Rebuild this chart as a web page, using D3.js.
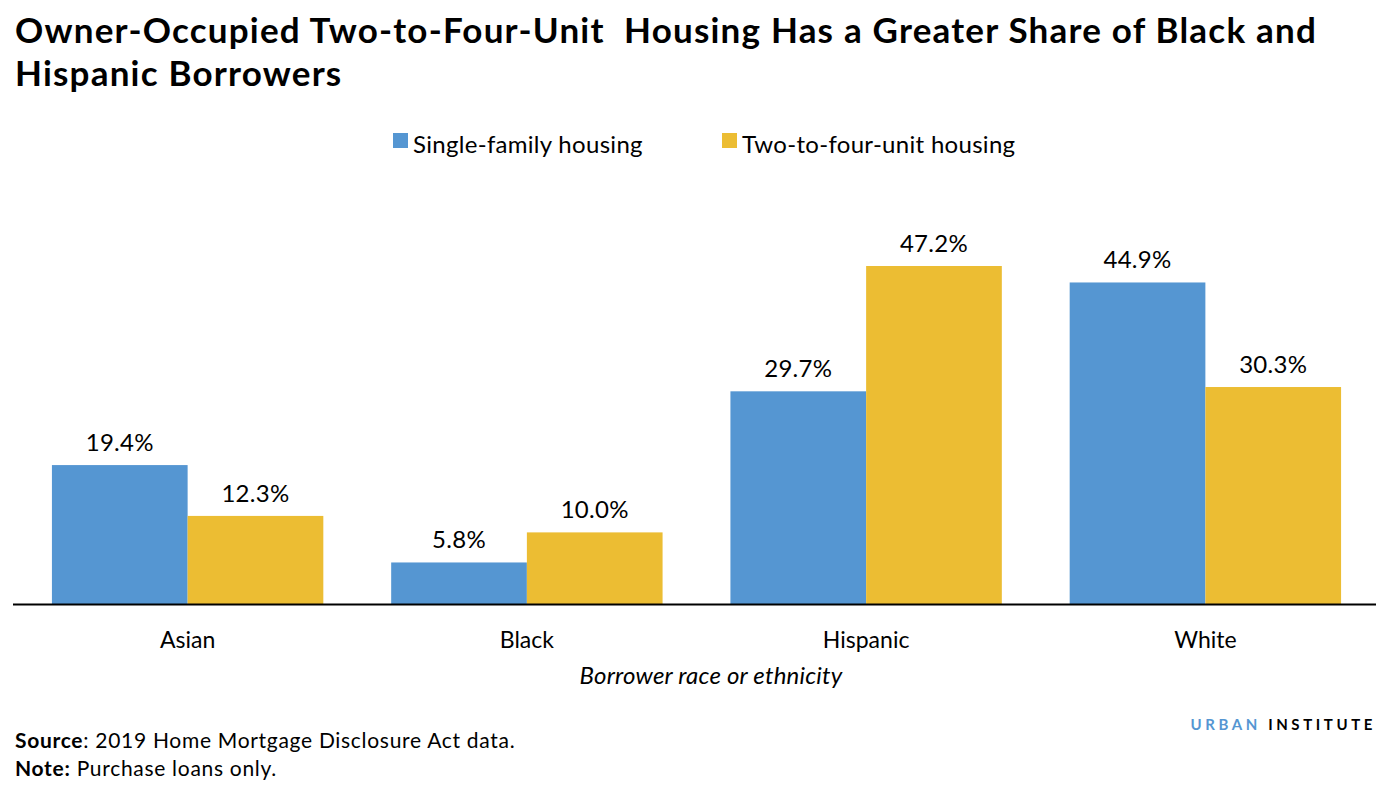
<!DOCTYPE html>
<html><head><meta charset="utf-8">
<script src="https://cdn.jsdelivr.net/npm/d3@7"></script>
<style>body{margin:0;background:#fff;} svg{display:block;font-family:Lato,'Open Sans',sans-serif;}</style>
</head><body>
<svg id="c" width="1391" height="789"></svg>
<script>
const categories = ["Asian","Black","Hispanic","White"];
const seriesNames = ["Single-family housing","Two-to-four-unit housing"];
const singleFamily = [19.4, 5.8, 29.7, 44.9];
const twoToFour = [12.3, 10.0, 47.2, 30.3];
const colors = ["#5596d2","#ecbd33"];

const svg = d3.select("#c");
const baseY = 604, topY = 266;
const x0 = d3.scaleBand().domain(categories).range([18,1375]).paddingInner(0.2).paddingOuter(0.1);
const x1 = d3.scaleBand().domain(seriesNames).range([0,x0.bandwidth()]);
const y = d3.scaleLinear().domain([0,47.2]).range([baseY, topY]);
const color = d3.scaleOrdinal().domain(seriesNames).range(colors);

// title
const titleLines = ["Owner-Occupied Two-to-Four-Unit\u00a0 Housing Has a Greater Share of Black and","Hispanic Borrowers"];
titleLines.forEach((t,i)=>{
  svg.append("text").attr("x",15).attr("y",43+i*43).attr("font-size",35).attr("font-weight",700)
    .attr("letter-spacing",1.2).attr("fill","#000").text(t);
});

// legend
const leg = [{n:seriesNames[0],x:393},{n:seriesNames[1],x:722}];
leg.forEach(l=>{
  svg.append("rect").attr("x",l.x).attr("y",133).attr("width",15).attr("height",15).attr("fill",color(l.n));
  svg.append("text").attr("x",l.x+20).attr("y",153).attr("font-size",24).attr("letter-spacing",0.3).attr("fill","#000").text(l.n);
});

const data = categories.map((c,i)=>({cat:c, vals:[{s:seriesNames[0],v:singleFamily[i]},{s:seriesNames[1],v:twoToFour[i]}]}));
const g = svg.append("g").selectAll("g").data(data).join("g").attr("transform",d=>`translate(${x0(d.cat)},0)`);
g.selectAll("rect").data(d=>d.vals).join("rect")
  .attr("x",d=>x1(d.s)).attr("width",x1.bandwidth())
  .attr("y",d=>y(d.v)).attr("height",d=>baseY-y(d.v)).attr("fill",d=>color(d.s));
g.selectAll("text").data(d=>d.vals).join("text")
  .attr("x",d=>x1(d.s)+x1.bandwidth()/2).attr("y",d=>y(d.v)-14)
  .attr("text-anchor","middle").attr("font-size",24).attr("letter-spacing",0.3).attr("fill","#000")
  .text(d=>d.v.toFixed(1)+"%");

// axis
const ax = svg.append("g").attr("transform",`translate(0,${baseY})`).call(d3.axisBottom(x0).tickSize(0).tickPadding(0));
ax.select(".domain").attr("stroke","#000").attr("stroke-width",2).attr("d","M13,0.5H1376");
ax.selectAll(".tick text").attr("font-size",23).attr("font-family","Lato,sans-serif").attr("fill","#000").attr("dy",0).attr("y",44);

svg.append("text").attr("x",711).attr("y",684).attr("text-anchor","middle").attr("font-size",24).attr("letter-spacing",0.2).attr("font-style","italic").attr("fill","#000").text("Borrower race or ethnicity");

// source / note
const s = svg.append("text").attr("x",15).attr("y",748).attr("font-size",21).attr("letter-spacing",0.7).attr("fill","#000");
s.append("tspan").attr("font-weight",700).text("Source");
s.append("tspan").text(": 2019 Home Mortgage Disclosure Act data.");
const n = svg.append("text").attr("x",15).attr("y",776).attr("font-size",21).attr("letter-spacing",0.7).attr("fill","#000");
n.append("tspan").attr("font-weight",700).text("Note:");
n.append("tspan").text(" Purchase loans only.");

const u = svg.append("text").attr("x",1376).attr("y",730).attr("text-anchor","end").attr("font-size",15).attr("font-weight",700).attr("letter-spacing",3.6);
u.append("tspan").attr("fill","#5596d2").text("URBAN ");
u.append("tspan").attr("fill","#000").text("INSTITUTE");
</script>
</body></html>
